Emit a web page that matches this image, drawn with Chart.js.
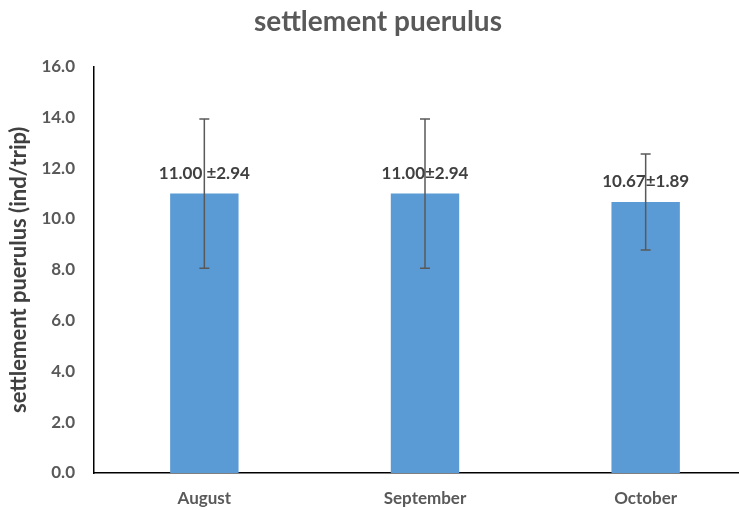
<!doctype html>
<html>
<head>
	<title>settlement puerulus</title>
	<script src="https://cdn.jsdelivr.net/npm/chart.js@4"></script>
	<style>
	body { margin: 0; overflow: hidden; background: #fff; }
	#container { width: 756px; height: 510px; }
	</style>
</head>
<body>
	<div id="container"><canvas id="canvas"></canvas></div>
	<script>
		const months = ['August', 'September', 'October'];
		const means = [11.00, 11.00, 10.67];
		const errors = [2.94, 2.94, 1.89];
		const valueLabels = ['11.00 ±2.94', '11.00±2.94', '10.67±1.89'];

		const fontFamily = 'Lato, "Liberation Sans", sans-serif';

		// error bars + value labels, drawn through the chart's own scales
		const errorBarPlugin = {
			id: 'errorBars',
			afterDatasetsDraw(chart) {
				const ctx = chart.ctx;
				const y = chart.scales.y;
				const meta = chart.getDatasetMeta(0);
				ctx.save();
				ctx.strokeStyle = '#595959';
				ctx.lineWidth = 1.5;
				meta.data.forEach((bar, i) => {
					const x = bar.x;
					const top = y.getPixelForValue(means[i] + errors[i]);
					const bottom = y.getPixelForValue(means[i] - errors[i]);
					ctx.beginPath();
					ctx.moveTo(x, top);
					ctx.lineTo(x, bottom);
					ctx.moveTo(x - 5, top);
					ctx.lineTo(x + 5, top);
					ctx.moveTo(x - 5, bottom);
					ctx.lineTo(x + 5, bottom);
					ctx.stroke();
				});
				ctx.fillStyle = '#404040';
				ctx.font = 'bold 17px ' + fontFamily;
				ctx.textAlign = 'center';
				ctx.textBaseline = 'middle';
				meta.data.forEach((bar, i) => {
					ctx.fillText(valueLabels[i], bar.x, bar.y - 20);
				});
				ctx.restore();
			}
		};

		const ctx = document.getElementById('canvas').getContext('2d');
		window.myChart = new Chart(ctx, {
			type: 'bar',
			data: {
				labels: months,
				datasets: [{
					label: 'settlement puerulus',
					data: means,
					backgroundColor: '#5B9BD5',
					barPercentage: 1,
					categoryPercentage: 0.31
				}]
			},
			plugins: [errorBarPlugin],
			options: {
				responsive: true,
				maintainAspectRatio: false,
				animation: false,
				layout: { padding: { top: 0, right: 0, bottom: 0, left: 0 } },
				plugins: {
					legend: { display: false },
					tooltip: { enabled: false },
					title: {
						display: true,
						text: 'settlement puerulus',
						color: '#595959',
						font: { family: fontFamily, size: 28, weight: 'bold' },
						padding: { top: 5, bottom: 28 }
					}
				},
				scales: {
					x: {
						grid: { display: false },
						border: { display: true, color: '#000', width: 1.5 },
						ticks: {
							color: '#595959',
							padding: 7,
							font: { family: fontFamily, size: 17, weight: 'bold' }
						},
						afterFit(scale) { scale.height = 37; }
					},
					y: {
						min: 0,
						max: 16,
						grid: { display: false },
						border: { display: true, color: '#000', width: 1.5 },
						ticks: {
							stepSize: 2,
							color: '#595959',
							padding: 11,
							font: { family: fontFamily, size: 17, weight: 'bold' },
							callback: (v) => Number(v).toFixed(1)
						},
						title: {
							display: true,
							text: 'settlement puerulus (ind/trip)',
							color: '#404040',
							font: { family: fontFamily, size: 22, weight: 'bold' },
							padding: { top: 6, bottom: 0 }
						},
						afterFit(scale) { scale.width = 94; }
					}
				}
			}
		});
	</script>
</body>
</html>
